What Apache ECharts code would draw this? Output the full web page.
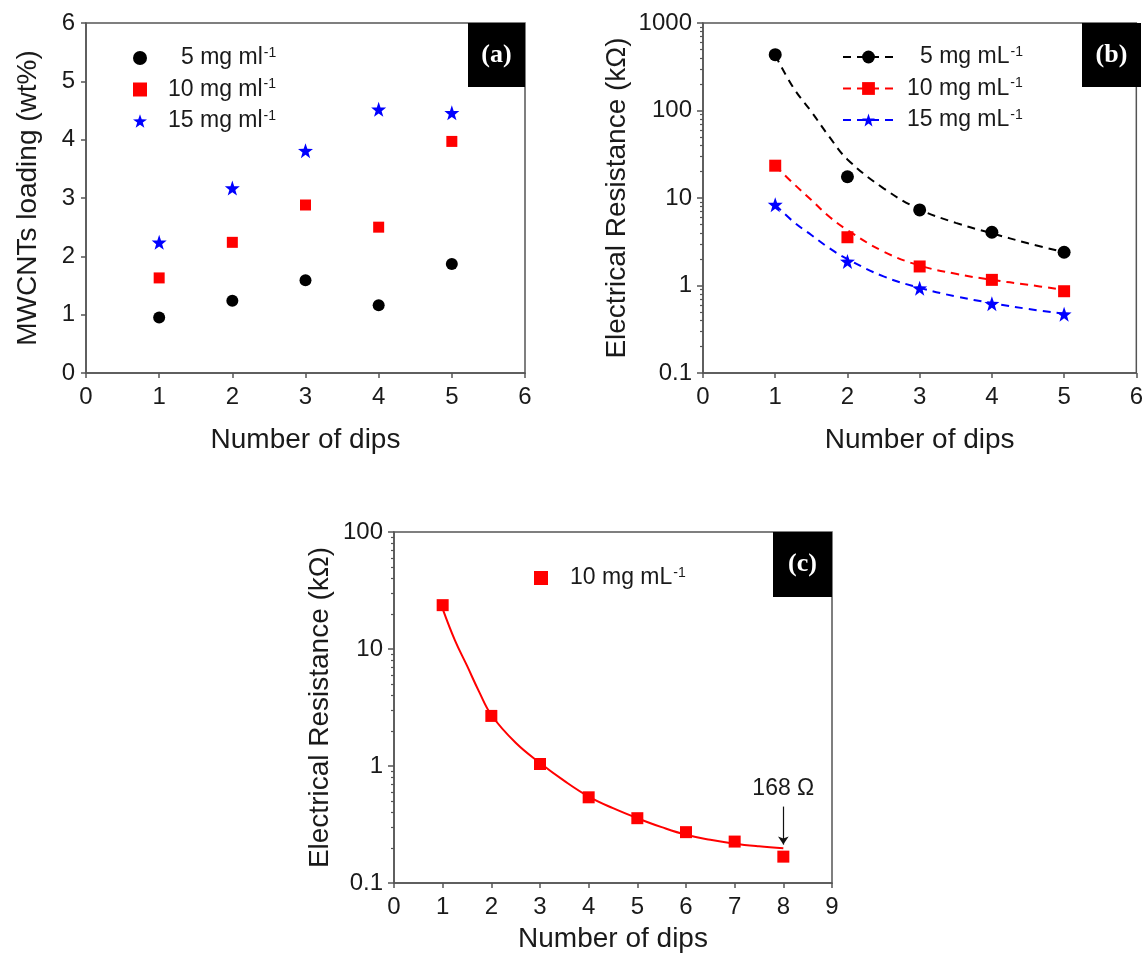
<!DOCTYPE html>
<html><head><meta charset="utf-8">
<script src="https://cdn.jsdelivr.net/npm/echarts@6/dist/echarts.min.js"></script>
<style>html,body{margin:0;padding:0;background:#fff}#c{width:1146px;height:956px}</style>
</head><body><div id="c"></div>
<script>
// ---------- data ----------
const dips = [1, 2, 3, 4, 5];
const loading5 = [0.95, 1.24, 1.59, 1.16, 1.87];
const loading10 = [1.63, 2.24, 2.88, 2.50, 3.97];
const loading15 = [2.24, 3.17, 3.81, 4.52, 4.46];

const res5 = [435, 17.5, 7.3, 4.06, 2.40];
const res10 = [23.4, 3.56, 1.65, 1.16, 0.86];
const res15 = [8.4, 1.88, 0.93, 0.62, 0.47];

const fitXb = [1, 1.25, 1.5, 1.75, 2, 2.5, 3, 3.5, 4, 4.5, 5];
const fit5 = [428, 183, 97, 50, 27.6, 12.9, 7.4, 5.2, 3.95, 3.04, 2.40];
const fit10 = [23.4, 14.7, 9.5, 6.1, 4.3, 2.44, 1.69, 1.36, 1.16, 1.02, 0.89];
const fit15 = [8.4, 5.37, 3.78, 2.67, 2.0, 1.27, 0.94, 0.75, 0.63, 0.54, 0.475];

const dipsC = [1, 2, 3, 4, 5, 6, 7, 8];
const resC = [23.7, 2.68, 1.04, 0.54, 0.358, 0.272, 0.226, 0.168];
const fitXc = [1, 1.25, 1.5, 1.75, 2, 2.5, 3, 3.5, 4, 4.5, 5, 5.5, 6, 6.5, 7, 7.5, 8];
const fitC = [22, 11.9, 7.2, 4.3, 2.73, 1.58, 1.06, 0.746, 0.548, 0.436, 0.358, 0.30, 0.258, 0.234, 0.217, 0.206, 0.198];

const namesA = ['5 mg ml', '10 mg ml', '15 mg ml'];
const namesB = ['5 mg mL', '10 mg mL', '15 mg mL'];
const nameC = '10 mg mL ';
const xTitle = 'Number of dips';
const yTitleA = 'MWCNTs loading (wt%)';
const yTitleR = 'Electrical Resistance (kΩ)';
const panelLabels = ['(a)', '(b)', '(c)'];
const annotC = '168 Ω';

// ---------- helpers ----------
const FONT = '"Liberation Sans", Arial, sans-serif';
const AX = '#555';
const TXT = '#1a1a1a';
const TICK_FS = 24, TITLE_FS = 28, LEG_FS = 23;
const pairs = (xs, ys) => xs.map((x, i) => [x, ys[i]]);
const STAR = 'path://M0,-10L2.35,-3.24L9.51,-3.09L3.8,1.24L5.88,8.09L0,4L-5.88,8.09L-3.8,1.24L-9.51,-3.09L-2.35,-3.24Z';
const minorTicks = (lo, hi) => { const v = []; for (let d = lo; d < hi; d++) { for (let k = 2; k <= 9; k++) v.push(+(k * Math.pow(10, d)).toPrecision(3)); } return v; };
const logFmt = v => String(+(+v).toPrecision(3));

function xAx(grid, max, gap) {
  return {
    type: 'value', gridIndex: grid, min: 0, max: max, interval: 1,
    axisLine: { show: true, onZero: false, lineStyle: { color: AX, width: 1.5 } },
    axisTick: { show: true, length: 5, lineStyle: { color: AX, width: 1.5 } },
    axisLabel: { color: TXT, fontSize: TICK_FS, fontFamily: FONT, margin: 12 },
    splitLine: { show: false },
    name: xTitle, nameLocation: 'middle', nameGap: gap,
    nameTextStyle: { color: TXT, fontSize: TITLE_FS, fontFamily: FONT }
  };
}
function yLog(grid, min, max, gap) {
  return {
    type: 'log', logBase: 10, gridIndex: grid, min: min, max: max, position: 'left',
    axisLine: { show: true, onZero: false, lineStyle: { color: AX, width: 1.5 } },
    axisTick: { show: true, length: 6, lineStyle: { color: AX, width: 1.5 } },
    axisLabel: { color: TXT, fontSize: TICK_FS, fontFamily: FONT, margin: 11, formatter: logFmt },
    splitLine: { show: false },
    name: yTitleR, nameLocation: 'middle', nameGap: gap,
    nameTextStyle: { color: TXT, fontSize: TITLE_FS, fontFamily: FONT }
  };
}
function yMinor(grid, min, max, lo, hi) {
  return {
    type: 'log', logBase: 10, gridIndex: grid, min: min, max: max, position: 'left',
    axisLine: { show: false, onZero: false },
    axisTick: { show: true, length: 3, customValues: minorTicks(lo, hi), lineStyle: { color: AX, width: 1.2 } },
    axisLabel: { show: false }, splitLine: { show: false }
  };
}
// legend text: leading spacer (so numbers line up on the right), name, superscript -1
const legendRich = {
  n: { fontSize: LEG_FS, fontFamily: FONT, color: TXT, lineHeight: 24 },
  s: { fontSize: 14, fontFamily: FONT, color: TXT, lineHeight: 14, verticalAlign: 'top', padding: [0, 0, 0, 1] }
};
const legendFmt = (base) => (name) => {
  const nm = name.trim();
  const extra = nm.indexOf(' ') === 1 ? 13 : 0;
  return '{sp' + (base + extra) + '|}{n|' + nm + '}{s|-1}';
};
function richWithSpacers(list) {
  const r = Object.assign({}, legendRich);
  list.forEach(w => { r['sp' + w] = { width: w, lineHeight: 24 }; });
  return r;
}

const gridBox = { show: true, borderColor: AX, borderWidth: 1.5, backgroundColor: 'transparent' };
const red = '#ff0000', blue = '#0000ff', black = '#000000';

function labelBox(x, y, w, h, t) {
  return {
    type: 'group', left: x, top: y,
    children: [
      { type: 'rect', shape: { x: 0, y: 0, width: w, height: h }, style: { fill: '#000' } },
      { type: 'text', x: w / 2, y: h / 2, style: { text: t, fill: '#fff', font: 'bold 26px "Liberation Serif", "Times New Roman", serif', textAlign: 'center', textVerticalAlign: 'middle' } }
    ]
  };
}
const pt = (c) => ({ color: c, opacity: 1 });

const option = {
  animation: false,
  backgroundColor: '#ffffff',
  grid: [
    Object.assign({ left: 86, top: 23, width: 439, height: 350 }, gridBox),
    Object.assign({ left: 703, top: 23, width: 438, height: 350 }, gridBox),
    Object.assign({ left: 394, top: 532, width: 438, height: 351 }, gridBox)
  ],
  xAxis: [xAx(0, 6, 53), xAx(1, 6, 53), xAx(2, 9, 42)],
  yAxis: [
    {
      type: 'value', gridIndex: 0, min: 0, max: 6, interval: 1,
      axisLine: { show: true, onZero: false, lineStyle: { color: AX, width: 1.5 } },
      axisTick: { show: true, length: 5, lineStyle: { color: AX, width: 1.5 } },
      axisLabel: { color: TXT, fontSize: TICK_FS, fontFamily: FONT, margin: 11 },
      splitLine: { show: false },
      name: yTitleA, nameLocation: 'middle', nameGap: 44,
      nameTextStyle: { color: TXT, fontSize: TITLE_FS, fontFamily: FONT }
    },
    yLog(1, 0.1, 1000, 72),
    yMinor(1, 0.1, 1000, -1, 3),
    yLog(2, 0.1, 100, 60),
    yMinor(2, 0.1, 100, -1, 2)
  ],
  legend: [
    {
      data: namesA, orient: 'vertical', left: 128, top: 41, itemWidth: 14, itemHeight: 14, itemGap: 8,
      formatter: legendFmt(16), textStyle: { rich: richWithSpacers([16, 29]) }
    },
    {
      data: namesB, orient: 'vertical', left: 837, top: 40, itemWidth: 51, itemHeight: 16, itemGap: 8,
      formatter: legendFmt(8), textStyle: { rich: richWithSpacers([8, 21]) }
    },
    {
      data: [nameC], orient: 'vertical', left: 529, top: 561, itemWidth: 14, itemHeight: 14,
      formatter: legendFmt(17), textStyle: { rich: richWithSpacers([17, 30]) }
    }
  ],
  graphic: [
    labelBox(468, 23, 57, 64, panelLabels[0]),
    labelBox(1082, 23, 59, 64, panelLabels[1]),
    labelBox(773, 532, 59, 65, panelLabels[2])
  ],
  series: [
    // (a)
    { type: 'scatter', name: namesA[0], xAxisIndex: 0, yAxisIndex: 0, symbol: 'circle', symbolSize: 12, itemStyle: pt(black), data: pairs(dips, loading5) },
    { type: 'scatter', name: namesA[1], xAxisIndex: 0, yAxisIndex: 0, symbol: 'rect', symbolSize: 11, itemStyle: pt(red), data: pairs(dips, loading10) },
    { type: 'scatter', name: namesA[2], xAxisIndex: 0, yAxisIndex: 0, symbol: STAR, symbolSize: 15, itemStyle: pt(blue), data: pairs(dips, loading15) },
    // (b) fitted lines
    { type: 'line', name: namesB[0], xAxisIndex: 1, yAxisIndex: 1, smooth: 0.4, symbol: 'circle', symbolSize: 12, showSymbol: false, lineStyle: { color: black, width: 2, type: [8, 6] }, itemStyle: pt(black), z: 2, data: pairs(fitXb, fit5) },
    { type: 'line', name: namesB[1], xAxisIndex: 1, yAxisIndex: 1, smooth: 0.4, symbol: 'rect', symbolSize: 11, showSymbol: false, lineStyle: { color: red, width: 2, type: [8, 6] }, itemStyle: pt(red), z: 2, data: pairs(fitXb, fit10) },
    { type: 'line', name: namesB[2], xAxisIndex: 1, yAxisIndex: 1, smooth: 0.4, symbol: STAR, symbolSize: 14, showSymbol: false, lineStyle: { color: blue, width: 2, type: [8, 6] }, itemStyle: pt(blue), z: 2, data: pairs(fitXb, fit15) },
    // (b) points
    { type: 'scatter', name: namesB[0], xAxisIndex: 1, yAxisIndex: 1, symbol: 'circle', symbolSize: 13, itemStyle: pt(black), z: 3, data: pairs(dips, res5) },
    { type: 'scatter', name: namesB[1], xAxisIndex: 1, yAxisIndex: 1, symbol: 'rect', symbolSize: 12, itemStyle: pt(red), z: 3, data: pairs(dips, res10) },
    { type: 'scatter', name: namesB[2], xAxisIndex: 1, yAxisIndex: 1, symbol: STAR, symbolSize: 15, itemStyle: pt(blue), z: 3, data: pairs(dips, res15) },
    // (c)
    { type: 'line', name: 'fit', xAxisIndex: 2, yAxisIndex: 3, smooth: 0.4, showSymbol: false, symbol: 'none', lineStyle: { color: red, width: 2 }, z: 2, data: pairs(fitXc, fitC) },
    {
      type: 'scatter', name: nameC, xAxisIndex: 2, yAxisIndex: 3, symbol: 'rect', symbolSize: 12, itemStyle: pt(red), z: 3, data: pairs(dipsC, resC),
      markLine: {
        silent: true, symbol: ['none', 'arrow'], symbolSize: 8,
        lineStyle: { color: '#111', width: 1.2, type: 'solid' },
        label: { show: true, position: 'start', formatter: annotC, fontSize: LEG_FS, fontFamily: FONT, color: TXT, distance: 6 },
        data: [[{ coord: [8, 0.45] }, { coord: [8, 0.213] }]]
      }
    }
  ]
};

const chart = echarts.init(document.getElementById('c'), null, { renderer: 'canvas' });
chart.setOption(option);
</script></body></html>
